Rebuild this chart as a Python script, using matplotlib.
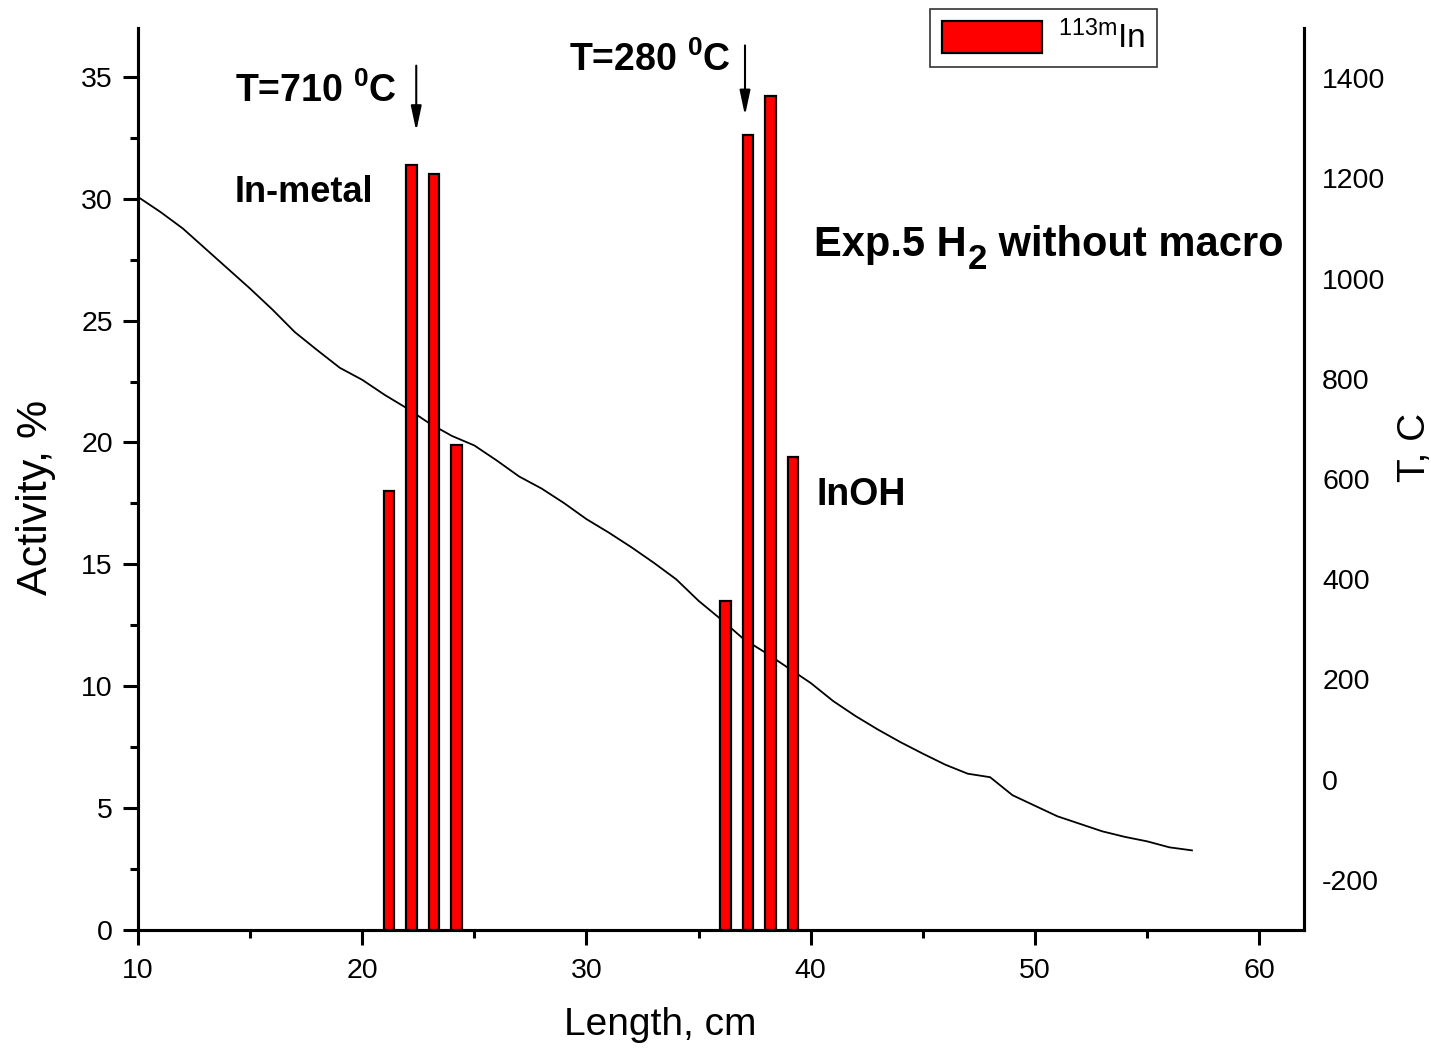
import matplotlib
matplotlib.use("Agg")
import matplotlib.pyplot as plt
from matplotlib.ticker import MultipleLocator

plt.rcParams['font.family'] = ['Liberation Sans', 'DejaVu Sans']
plt.rcParams['mathtext.fontset'] = 'custom'
plt.rcParams['mathtext.rm'] = 'Liberation Sans'
plt.rcParams['mathtext.it'] = 'Liberation Sans:italic'
plt.rcParams['mathtext.bf'] = 'Liberation Sans:bold'
plt.rcParams['axes.unicode_minus'] = False

# Activity bars (113mIn)
bar_x = [21.2, 22.2, 23.2, 24.2, 36.2, 37.2, 38.2, 39.2]
activity = [18.0, 31.4, 31.0, 19.9, 13.5, 32.6, 34.2, 19.4]

# Temperature profile
length_cm = [10, 11, 12, 13, 14, 15, 16, 17, 18, 19, 20, 21, 22, 23, 24, 25, 26, 27, 28, 29,
             30, 31, 32, 33, 34, 35, 36, 37, 38, 39, 40, 41, 42, 43, 44, 45, 46, 47, 48, 49,
             50, 51, 52, 53, 54, 55, 56, 57]
temp_c = [1163, 1133, 1100, 1060, 1020, 980, 938, 893, 857, 822, 798, 768, 741, 711, 686, 667,
          637, 605, 581, 552, 520, 493, 464, 433, 400, 357, 320, 281, 253, 223, 193, 157,
          127, 100, 75, 52, 30, 12, 5, -31, -52, -73, -88, -103, -114, -123, -135, -141]

fig = plt.figure(figsize=(14.31, 10.49), dpi=100)
ax = fig.add_axes([0.0964, 0.1134, 0.8149, 0.8599])
ax2 = ax.twinx()

ax.bar(bar_x, activity, width=0.46, color='#ff0000', edgecolor='black', linewidth=1.6,
       label=r'$\mathregular{^{113m}In}$', zorder=3)
ax2.plot(length_cm, temp_c, color='black', linewidth=1.3)

ax.set_zorder(ax2.get_zorder() + 1)
ax.patch.set_visible(False)

ax.set_xlim(10, 62)
ax.set_ylim(0, 37)
ax2.set_ylim(-300, 1500)

ax.xaxis.set_major_locator(MultipleLocator(10))
ax.xaxis.set_minor_locator(MultipleLocator(5))
ax.yaxis.set_major_locator(MultipleLocator(5))
ax.yaxis.set_minor_locator(MultipleLocator(2.5))
ax2.yaxis.set_major_locator(MultipleLocator(200))

for a in (ax, ax2):
    a.spines['top'].set_visible(False)
    for s in ('left', 'bottom', 'right'):
        a.spines[s].set_linewidth(2.2)

ax.tick_params(axis='both', which='major', direction='out', length=11, width=2.2,
               labelsize=20.5, pad=7)
ax.tick_params(axis='x', which='major', pad=9)
ax.tick_params(axis='both', which='minor', direction='out', length=6, width=2.2)
ax.tick_params(axis='y', right=False)
ax2.tick_params(axis='y', which='both', length=0, labelsize=20.5, pad=13)

ax.set_xlabel('Length, cm', fontsize=28, labelpad=17)
ax.xaxis.label.set_x(0.448)
ax.set_ylabel('Activity, %', fontsize=31, labelpad=18)
ax.yaxis.label.set_y(0.48)
ax2.set_ylabel('T, C', fontsize=28, labelpad=8)
ax2.yaxis.label.set_y(0.535)

# Annotations
ax.text(14.32, 33.95, r'T=710 $\mathregular{^0}$C', fontsize=27, fontweight='bold', va='baseline')
ax.text(29.24, 35.25, r'T=280 $\mathregular{^0}$C', fontsize=27, fontweight='bold', va='baseline')
ax.text(14.32, 29.85, 'In-metal', fontsize=26, fontweight='bold', va='baseline')
ax.text(40.24, 17.42, 'InOH', fontsize=27, fontweight='bold', va='baseline')

t1 = ax.text(40.15, 27.66, 'Exp.5 H', fontsize=30, fontweight='bold', va='baseline')
t2 = ax.annotate('2', xy=(1, 0), xycoords=t1, xytext=(0.5, -8.3), textcoords='offset points',
                 fontsize=25, fontweight='bold', va='bottom', ha='left')
t3 = ax.annotate(' without macro', xy=(1, 0), xycoords=(t2, t1), xytext=(0, 0),
                 textcoords='offset points', fontsize=30, fontweight='bold',
                 va='bottom', ha='left')

arrow_kw = dict(arrowstyle='-|>,head_length=1.5,head_width=0.32', color='black', lw=1.5)
ax.annotate('', xy=(22.41, 32.66), xytext=(22.41, 35.57), arrowprops=arrow_kw)
ax.annotate('', xy=(37.07, 33.3), xytext=(37.07, 36.4), arrowprops=arrow_kw)

leg = ax.legend(loc='upper left', bbox_to_anchor=(930 / 1431, 1 - 9 / 1049),
                bbox_transform=fig.transFigure, fontsize=24, frameon=True, fancybox=False,
                edgecolor='black', handlelength=3.0, handleheight=1.1, borderpad=0.35,
                handletextpad=0.5, borderaxespad=0)
leg.get_frame().set_linewidth(1.2)

fig.savefig('out.png', dpi=100)
